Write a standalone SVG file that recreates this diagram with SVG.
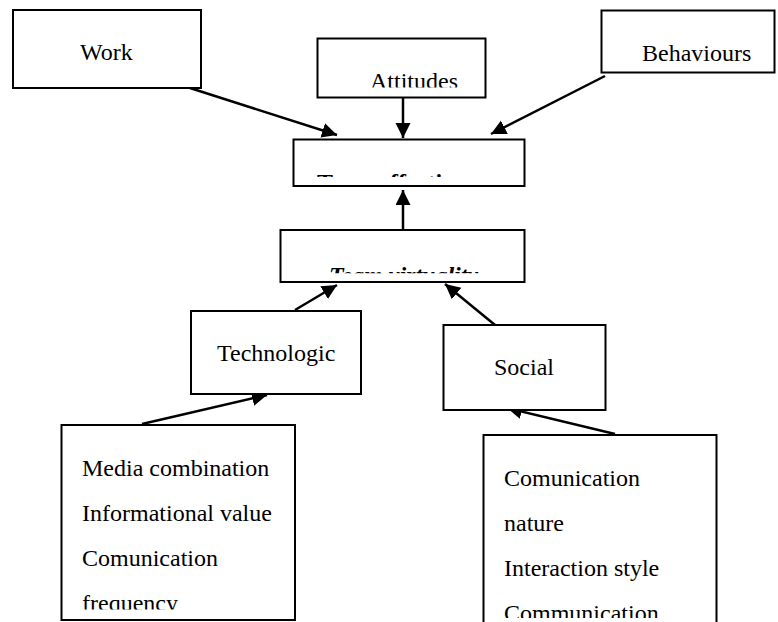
<svg xmlns="http://www.w3.org/2000/svg" width="778" height="622" viewBox="0 0 778 622">
<style>
.box{fill:#fff;stroke:#000;stroke-width:2}
.t{font-family:"Liberation Serif","Times New Roman",serif;font-size:24px;fill:#000}
.b{font-weight:bold}
.bi{font-weight:bold;font-style:italic}
.c{stroke:#000;stroke-width:2.5;fill:none;marker-end:url(#ah)}
</style>
<defs>
<marker id="ah" markerUnits="userSpaceOnUse" markerWidth="16" markerHeight="16" refX="15" refY="7.5" orient="auto">
<path d="M0,0 L15,7.5 L0,15 z" fill="#000"/>
</marker>
<clipPath id="clipAtt"><rect x="318" y="39" width="167" height="48.5"/></clipPath>
<clipPath id="clipEff"><rect x="294" y="140" width="230" height="37"/></clipPath>
<clipPath id="clipVir"><rect x="281" y="231" width="243" height="42.3"/></clipPath>
<clipPath id="clipL"><rect x="62" y="426" width="232" height="183.5"/></clipPath>
<clipPath id="clipR"><rect x="484" y="436" width="232" height="182"/></clipPath>
</defs>
<rect width="778" height="622" fill="#fff"/>
<g id="connectors">
<line class="c" x1="190" y1="88" x2="337" y2="135"/>
<line class="c" x1="403" y1="97" x2="403" y2="138"/>
<line class="c" x1="605" y1="76" x2="491" y2="134"/>
<line class="c" x1="403" y1="230" x2="403" y2="190"/>
<line class="c" x1="295" y1="310" x2="337" y2="285"/>
<line class="c" x1="495" y1="325" x2="445" y2="284"/>
<line class="c" x1="142" y1="424" x2="267" y2="395"/>
<line class="c" x1="615" y1="434" x2="507" y2="408"/>
</g>
<g id="work">
<rect class="box" x="13" y="10" width="188" height="78"/>
<text class="t" x="80" y="60">Work</text>
</g>
<g id="attitudes">
<rect class="box" x="317.5" y="38.5" width="168" height="59"/>
<text class="t" x="370" y="89" clip-path="url(#clipAtt)">Attitudes</text>
</g>
<g id="behaviours">
<rect class="box" x="601.5" y="10.5" width="173" height="62"/>
<text class="t" x="642" y="61">Behaviours</text>
</g>
<g id="team-effectiveness">
<rect class="box" x="293.5" y="139.5" width="231" height="46.5"/>
<text class="t b" x="317" y="190" clip-path="url(#clipEff)">Team effectiveness</text>
</g>
<g id="team-virtuality">
<rect class="box" x="280.5" y="230" width="244" height="52"/>
<text class="t bi" x="329" y="283" clip-path="url(#clipVir)">Team virtuality</text>
</g>
<g id="technologic">
<rect class="box" x="191" y="311" width="170" height="83"/>
<text class="t" x="217" y="361">Technologic</text>
</g>
<g id="social">
<rect class="box" x="443.5" y="325" width="162" height="85"/>
<text class="t" x="494" y="375">Social</text>
</g>
<g id="technologic-factors">
<rect class="box" x="61.5" y="425" width="233.5" height="195"/>
<g clip-path="url(#clipL)">
<text class="t" x="82" y="476">Media combination</text>
<text class="t" x="82" y="521">Informational value</text>
<text class="t" x="82" y="566">Comunication</text>
<text class="t" x="82" y="611">frequency</text>
</g>
</g>
<g id="social-factors">
<path class="box" d="M483.5,624 V435 H716.5 V624"/>
<g clip-path="url(#clipR)">
<text class="t" x="504" y="486">Comunication</text>
<text class="t" x="504" y="531">nature</text>
<text class="t" x="504" y="576">Interaction style</text>
<text class="t" x="504" y="621">Communication</text>
</g>
</g>
</svg>
